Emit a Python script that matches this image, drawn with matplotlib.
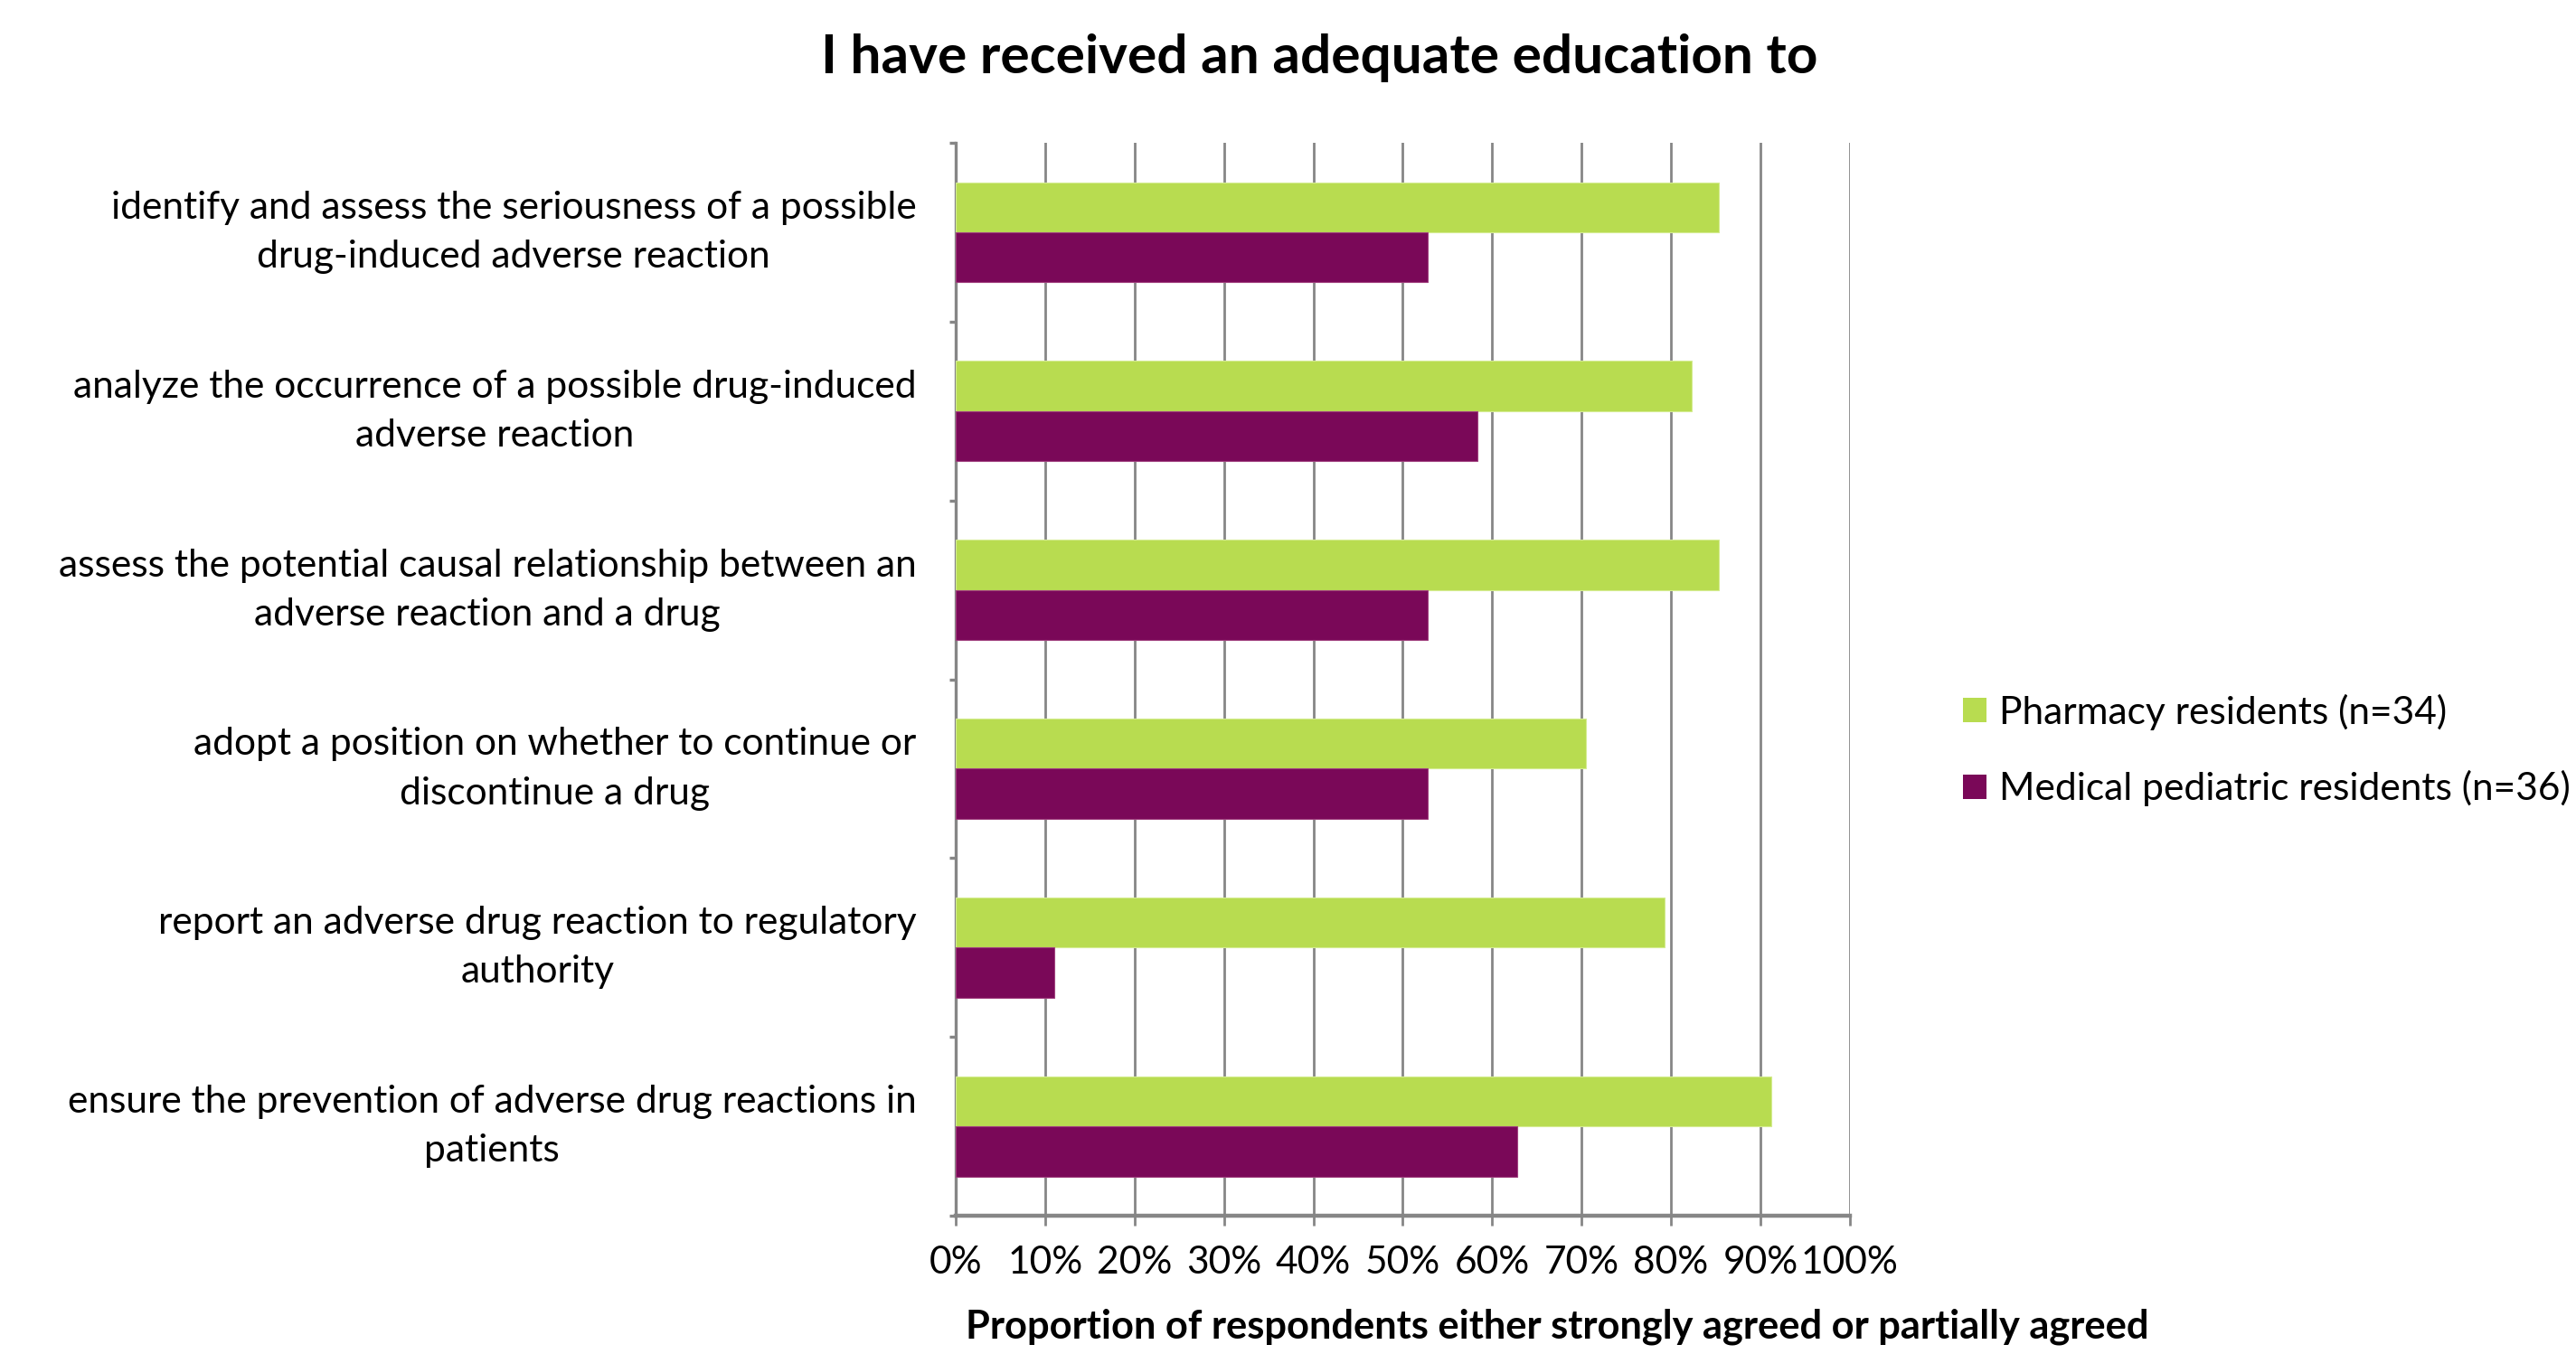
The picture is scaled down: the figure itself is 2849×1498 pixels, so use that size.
import numpy as np
import matplotlib.pyplot as plt
from matplotlib.patches import Patch

plt.rcParams['font.family'] = ['Lato', 'DejaVu Sans']

categories = [
    "identify and assess the seriousness of a possible\ndrug-induced adverse reaction",
    "analyze the occurrence of a possible drug-induced\nadverse reaction",
    "assess the potential causal relationship between an\nadverse reaction and a drug",
    "adopt a position on whether to continue or\ndiscontinue a drug",
    "report an adverse drug reaction to regulatory\nauthority",
    "ensure the prevention of adverse drug reactions in\npatients",
]
pharmacy = [85.3, 82.3, 85.3, 70.5, 79.3, 91.2]
pediatric = [52.8, 58.3, 52.8, 52.8, 11.0, 62.8]
series_names = ["Pharmacy residents (n=34)", "Medical pediatric residents (n=36)"]
ticks = list(range(0, 101, 10))

green = '#B8DC50'
purple = '#7A0858'
grey = '#868686'

fig = plt.figure(figsize=(14.245, 7.49), dpi=200)
ax = fig.add_axes([0.371, 0.1021, 0.7181 - 0.371, 0.8945 - 0.1021])

y = np.arange(len(categories))
h = 0.28
ax.barh(y - h / 2, pharmacy, height=h, color=green, edgecolor='#D4EC90', linewidth=0.4, zorder=3)
ax.barh(y + h / 2, pediatric, height=h, color=purple, edgecolor='#A0407E', linewidth=0.4, zorder=3)

ax.set_xlim(0, 100)
ax.set_ylim(len(categories) - 0.5, -0.5)
ax.set_xticks(ticks)
ax.set_xticklabels([f"{t}%" for t in ticks], fontsize=15.3)
ax.set_yticks(np.arange(-0.5, len(categories), 1.0))
ax.set_yticklabels([])
ax.grid(axis='x', color=grey, linewidth=1.0, zorder=0)
ax.tick_params(axis='x', length=4, width=1.0, color=grey, pad=8)
ax.tick_params(axis='y', length=2.5, width=1.2, color=grey)
for s in ['top', 'right']:
    ax.spines[s].set_visible(False)
ax.spines['left'].set_color(grey)
ax.spines['left'].set_linewidth(1.2)
ax.spines['bottom'].set_color(grey)
ax.spines['bottom'].set_linewidth(1.6)

for i, lab in enumerate(categories):
    ax.text(-0.044, i, lab, transform=ax.get_yaxis_transform(), ha='right', va='center',
            multialignment='center', fontsize=15.3, linespacing=1.52)

fig.text(1459 / 2849, 1 - 64 / 1498, "I have received an adequate education to",
         ha='center', va='center', fontsize=21.7, fontweight='bold')
fig.text(1722 / 2849, 1 - 1468 / 1498,
         "Proportion of respondents either strongly agreed or partially agreed",
         ha='center', va='center', fontsize=15.6, fontweight='bold')

handles = [Patch(facecolor=green), Patch(facecolor=purple)]
fig.legend(handles, series_names, loc='center left', bbox_to_anchor=(2171 / 2849, 1 - 830 / 1498),
           frameon=False, fontsize=15.3, handlelength=0.6, handleheight=0.6,
           handletextpad=0.35, labelspacing=1.05, borderaxespad=0, borderpad=0)

fig.savefig('out.png', dpi=200)
